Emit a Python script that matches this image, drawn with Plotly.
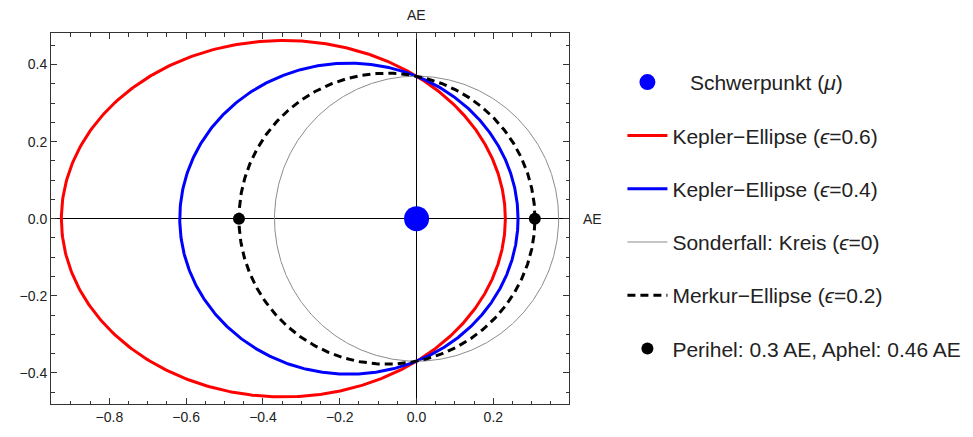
import numpy as np
import plotly.graph_objects as go

# --- data ---
semi_latus = 0.37                      # all orbits cross the y axis at +/-0.37 AE
ecc_values = [0.6, 0.4, 0.0, 0.2]
orbit_names = ["Kepler\u2212Ellipse (<i>\u03f5</i>=0.6)",
               "Kepler\u2212Ellipse (<i>\u03f5</i>=0.4)",
               "Sonderfall: Kreis (<i>\u03f5</i>=0)",
               "Merkur\u2212Ellipse (<i>\u03f5</i>=0.2)"]
orbit_colors = ["#ff0000", "#0000ff", "#8c8c8c", "#000000"]
focus_x = [0.0]
focus_y = [0.0]
apsides_x = [-0.4625, 0.308]
apsides_y = [0.0, 0.0]
x_ticks = [-0.8, -0.6, -0.4, -0.2, 0.0, 0.2]
y_ticks = [-0.4, -0.2, 0.0, 0.2, 0.4]

theta = np.linspace(0, 2 * np.pi, 721)

fig = go.Figure()
styles = [dict(width=3), dict(width=3), dict(width=1), dict(width=3, dash="8px,5px")]
ranks = [2, 3, 4, 5]
for e, name, col, st, rk in zip(ecc_values, orbit_names, orbit_colors, styles, ranks):
    r = semi_latus / (1 + e * np.cos(theta))
    fig.add_trace(go.Scatter(x=r * np.cos(theta), y=r * np.sin(theta), mode="lines",
                             name=name, line=dict(color=col, **st),
                             legendgroup=name, legendrank=rk))

fig.add_trace(go.Scatter(x=focus_x, y=focus_y, mode="markers",
                         name="\u00a0\u00a0\u00a0Schwerpunkt (<i>\u03bc</i>)",
                         marker=dict(color="#0000ff", size=25),
                         legendgroup="s", legendrank=1))
fig.add_trace(go.Scatter(x=apsides_x, y=apsides_y, mode="markers",
                         name="Perihel: 0.3 AE, Aphel: 0.46 AE",
                         marker=dict(color="#000000", size=12),
                         legendgroup="p", legendrank=6))

axis_common = dict(showgrid=False, zeroline=True, zerolinecolor="#000000", zerolinewidth=1,
                   showline=True, linecolor="#333333", linewidth=1, mirror="ticks",
                   ticks="inside", ticklen=6, tickcolor="#333333", tickwidth=1,
                   tickformat=".1f", tickfont=dict(size=14, color="#222222"),
                   minor=dict(ticks="inside", ticklen=3.5, dtick=0.05, tickcolor="#333333",
                              showgrid=False))

fig.update_xaxes(range=[-0.952, 0.397], tickvals=x_ticks, **axis_common)
fig.update_yaxes(range=[-0.481, 0.482], tickvals=y_ticks, **axis_common)

fig.add_annotation(x=0, y=1, xref="x", yref="paper", yanchor="middle", yshift=18, text="AE",
                   showarrow=False, font=dict(size=14, color="#222222"))
fig.add_annotation(x=1, y=0, xref="paper", yref="y", xanchor="center", xshift=23, text="AE",
                   showarrow=False, font=dict(size=14, color="#222222"))

# page body has an 8px margin: figure is 8px smaller so it fits the 973x437 window
fig.update_layout(
    width=965, height=429,
    margin=dict(l=34, r=404, t=25, b=28),
    paper_bgcolor="white", plot_bgcolor="white",
    font=dict(family="Liberation Sans, Arial, sans-serif", color="#222222"),
    legend=dict(x=0.6367, xref="container", y=0.922, xanchor="left", yanchor="top",
                font=dict(size=21, color="#222222"), tracegroupgap=23,
                itemwidth=40, bgcolor="rgba(0,0,0,0)"),
)

fig.write_html("out.html")
